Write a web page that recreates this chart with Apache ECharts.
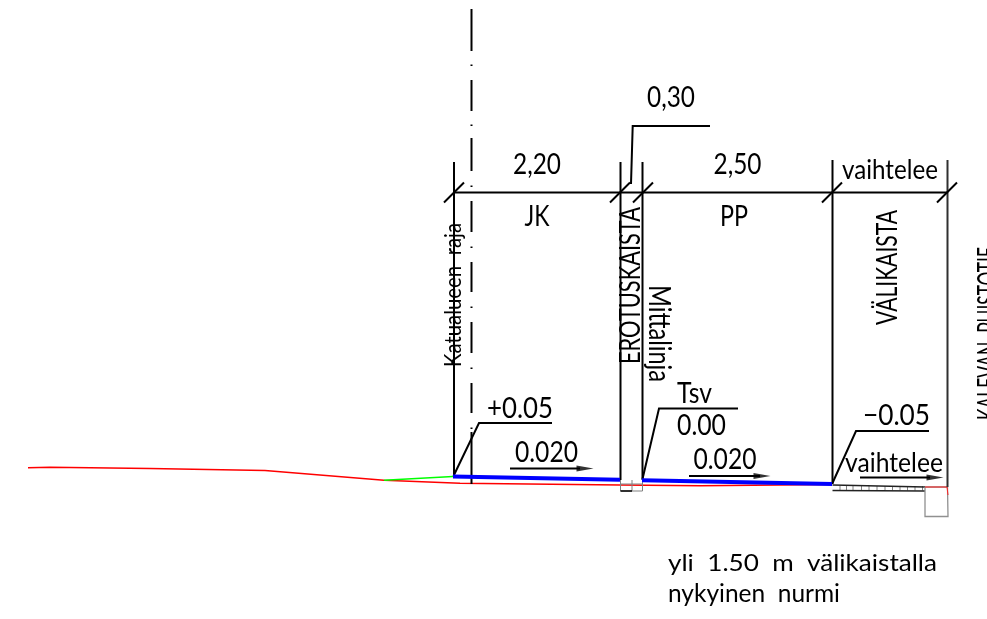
<!DOCTYPE html>
<html><head><meta charset="utf-8">
<style>html,body{margin:0;padding:0;background:#fff}#c{width:987px;height:619px}</style>
<script src="https://cdn.jsdelivr.net/npm/echarts@6/dist/echarts.min.js"></script>
</head><body><div id="c"></div>
<script>
// Drawing geometry in sheet units
const groundRed = [[28,467.7],[50,467.3],[150,468.5],[265,470.5],[384,480.3],[460,483.2],[620,485],[700,485.7],[832,484.5]];
const groundGreen = [[384,480.3],[453,476.6]];
const surfaceLeft = [[453,476.6],[620,479.8]];
const surfaceRight = [[642,480.2],[832,484]];
const walls = [
  [[454,162],[454,477]],
  [[620.5,162],[620.5,480]],
  [[642.5,162],[642.5,480]],
  [[832.5,160],[832.5,484]]
];
const wallRight = [[947.5,160],[947.5,487]];
const dimLine = [[454,192.5],[947.5,192.5]];
const dimTicks = [
  [[444,202.5],[464,182.5]],[[610,202.5],[630,182.5]],[[633,202.5],[653,182.5]],
  [[822,202.5],[842,182.5]],[[937,202.5],[957,182.5]]
];
const centerDashes = [[9,51],[64.5,66],[80,111],[124.5,126],[138,171],[185.5,187],[201,232],[246.5,248],[262,292],[306.5,308],[322,353],[367.5,369],[383,413],[427.5,429],[432,484]];
const leaders = [
  [[631,184],[632.7,126],[710,126]],
  [[453.5,476],[479,423],[552,423]],
  [[642.5,479],[659,408.5],[738,408.5]],
  [[832.5,483],[856,431],[929,431]]
];
const arrowShafts = [[[510,468.5],[580,468.5]],[[689,476],[760,476]],[[860,477.5],[930,477.5]]];
const arrowHeads = [[585,468.5],[762,476],[935,477.5]];
const hatchDark = [[[832.5,485],[925,487]],[[832.5,490.5],[925,491]]];
const hatchTicks = [840,846.5,853,861.5,869,877,885,892.5,900,907.5,915,922.5];
const boxGray = [[925,487],[947.5,487],[948,516.5],[925,516.5],[925,487]];
const redCorner = [[925,487],[947,487],[948,495]];
const stripGray = [[[620.5,480],[620.5,491]],[[632,480],[632,491]],[[642.5,480],[642.5,491]],[[620.5,491],[642.5,491]],[[620.5,484],[642.5,484]]];
const stripDark = [[620.5,491],[632,491]];
// Texts: centre x, centre y, string
const textsPlain = [
  [671,98,'0,30'],[537,165,'2,20'],[737.5,165,'2,50'],[890,170,'vaihtelee'],
  [537,217,'JK'],[734,217,'PP'],[694.5,394,'Tsv'],[701.5,426,'0.00'],
  [520,409,'+0.05'],[546.5,453,'0.020'],[725,459.5,'0.020'],[896.5,416,'−0.05'],[894,463,'vaihtelee'],
  [802.5,563,'yli  1.50  m  välikaistalla'],[754,594,'nykyinen  nurmi']
];
const plainLengths = [48,48,48,96,25,28,35,49,66,63,63,67,98,269,172];
const textsUp = [[453.5,295,'Katualueen  raja'],[631,285.5,'EROTUSKAISTA'],[888,267.5,'VÄLIKAISTA'],[989,333.5,'KALEVAN  PUISTOTIE']];
const upLengths = [144,157,115,173];
const textsDown = [[659,333.5,'Mittalinja']];
const downLengths = [97];

const FONT = 'Lato, sans-serif';
const WEIGHT = 400;
const mctx = document.createElement('canvas').getContext('2d');
function fitScale(str,size,target){ mctx.font = `${WEIGHT} ${size}px ${FONT}`; return target/mctx.measureText(str).width; }

const line = (data,color,width)=>({type:'line',data,symbol:'none',silent:true,animation:false,clip:false,
  lineStyle:{color,width,cap:'butt',join:'miter'}});
const textSeries = (rows,lengths,rotDeg,sizes)=>({type:'custom',silent:true,animation:false,clip:false,
  coordinateSystem:'cartesian2d',
  data:rows.map((r,i)=>[r[0],r[1],i]),
  renderItem(params,api){
    const i = api.value(2), p = api.coord([api.value(0),api.value(1)]);
    const size = Array.isArray(sizes)?sizes[i]:sizes;
    return {type:'text',x:p[0],y:p[1],rotation:rotDeg*Math.PI/180,
      scaleX:fitScale(rows[i][2],size,lengths[i]),scaleY:1,
      style:{text:rows[i][2],fill:'#000',font:`${WEIGHT} ${size}px ${FONT}`,align:'center',verticalAlign:'middle'}};
  }});

const series = [];
series.push(line(groundRed,'#ff0000',1.5));
series.push(line(groundGreen,'#00ff00',1.5));
stripGray.forEach(s=>series.push(line(s,'#808080',1)));
series.push(line(stripDark,'#000',1.5));
hatchTicks.forEach(x=>series.push(line([[x,486],[x,490.5]],'#808080',1)));
hatchDark.forEach(s=>series.push(line(s,'#222',1.6)));
series.push(line(boxGray,'#909090',1.3));
series.push(line(redCorner,'#ff2020',1));
walls.forEach(s=>series.push(line(s,'#000',2)));
series.push(line(wallRight,'#303030',2));
series.push(line(dimLine,'#000',2));
dimTicks.forEach(s=>series.push(line(s,'#000',2)));
centerDashes.forEach(d=>series.push(line([[471.5,d[0]],[471.5,d[1]]],'#000',2)));
leaders.forEach(s=>series.push(line(s,'#000',2)));
arrowShafts.forEach(s=>series.push(line(s,'#000',2)));
series.push({type:'scatter',data:arrowHeads,symbol:'triangle',symbolSize:[6,17],symbolRotate:-90,silent:true,animation:false,itemStyle:{color:'#000'}});
series.push(line(surfaceLeft,'#0000ff',4));
series.push(line(surfaceRight,'#0000ff',4));
series.push(textSeries(textsPlain,plainLengths,0,[28,28,28,27,28,28,28,28,28,28,28,28,27,24,25]));
series.push(textSeries(textsUp,upLengths,90,[23,29,28,28]));
series.push(textSeries(textsDown,downLengths,-90,[30]));

const chart = echarts.init(document.getElementById('c'),null,{renderer:'canvas'});
chart.setOption({
  animation:false,backgroundColor:'#fff',
  grid:{left:0,right:0,top:0,bottom:0},
  xAxis:{type:'value',min:0,max:987,show:false},
  yAxis:{type:'value',min:0,max:619,inverse:true,show:false},
  series
});
</script></body></html>
